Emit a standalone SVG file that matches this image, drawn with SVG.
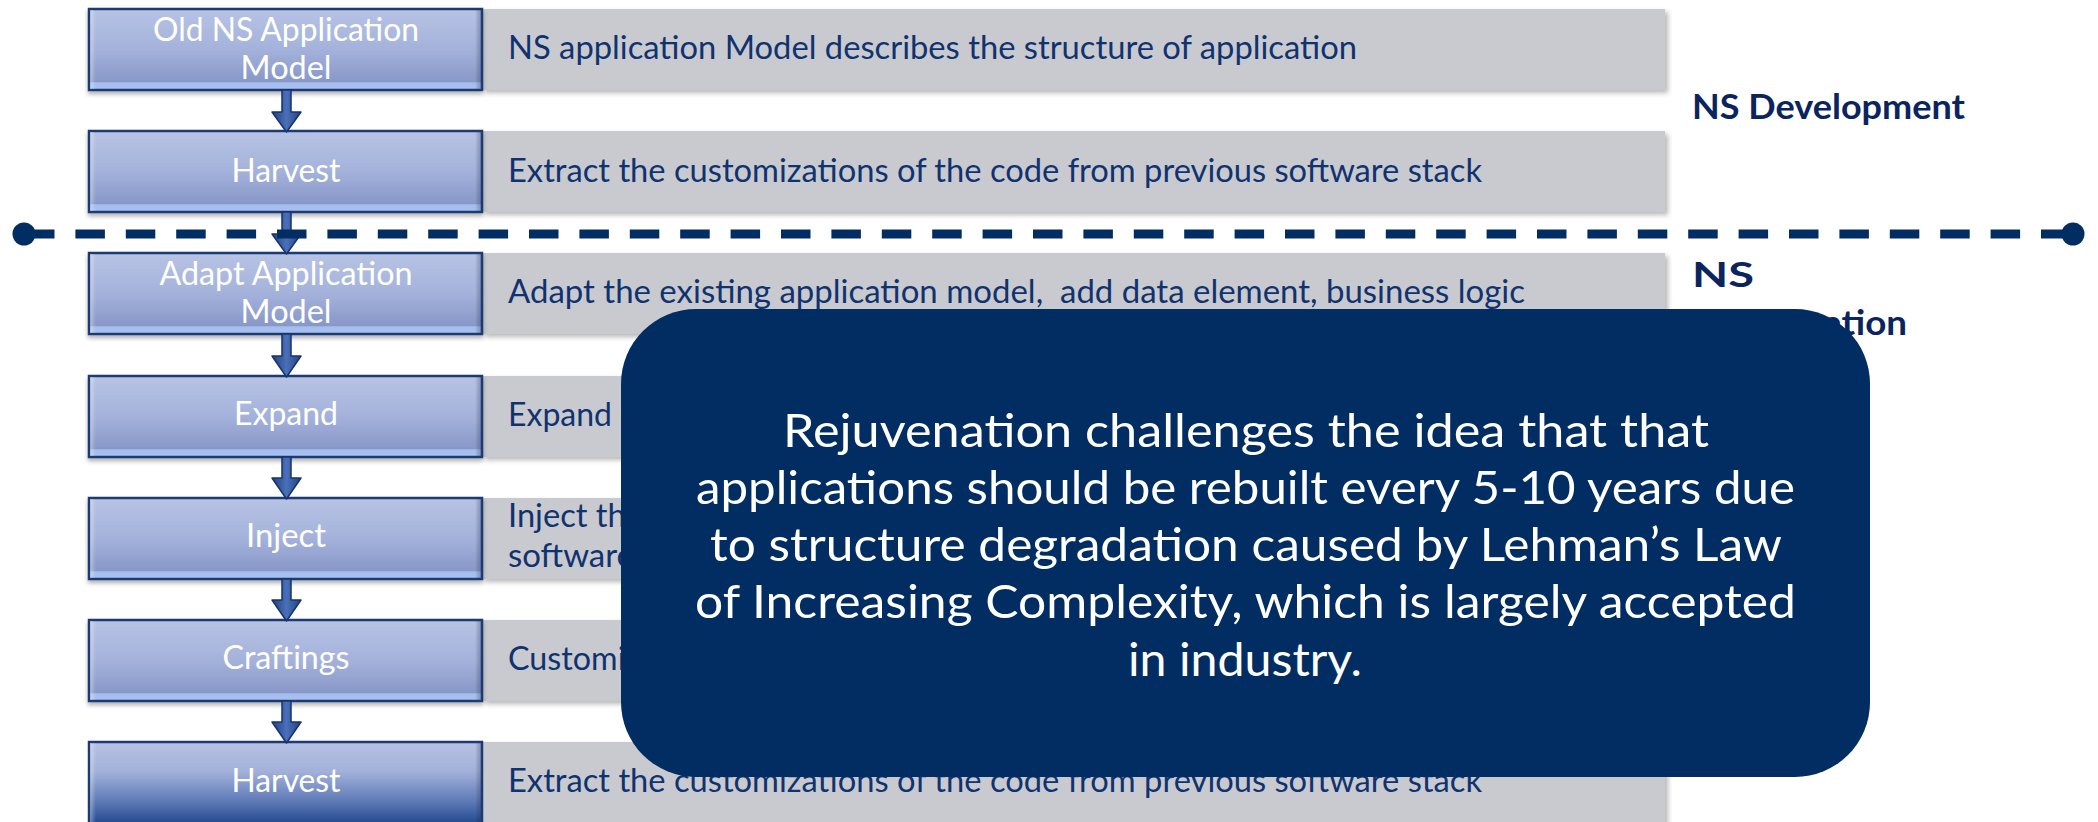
<svg xmlns="http://www.w3.org/2000/svg" width="2098" height="822" viewBox="0 0 2098 822">
  <defs>
    <linearGradient id="stepFill" x1="0" y1="0" x2="0" y2="1">
      <stop offset="0" stop-color="#b8c3e4"/>
      <stop offset="0.5" stop-color="#a4b2db"/>
      <stop offset="0.9" stop-color="#8797c7"/>
      <stop offset="0.91" stop-color="#a4bdee"/>
      <stop offset="1" stop-color="#a9c2f0"/>
    </linearGradient>
    <linearGradient id="stepFillDark" x1="0" y1="0" x2="0" y2="1">
      <stop offset="0" stop-color="#b7c2e3"/>
      <stop offset="0.35" stop-color="#a3b1da"/>
      <stop offset="0.7" stop-color="#5f7bb8"/>
      <stop offset="1" stop-color="#1d4489"/>
    </linearGradient>
    <linearGradient id="edgeShade" x1="0" y1="0" x2="1" y2="0">
      <stop offset="0" stop-color="#ffffff" stop-opacity="0.35"/>
      <stop offset="0.015" stop-color="#ffffff" stop-opacity="0"/>
      <stop offset="0.985" stop-color="#000000" stop-opacity="0"/>
      <stop offset="1" stop-color="#1b2f5e" stop-opacity="0.3"/>
    </linearGradient>
    <linearGradient id="arrowFill" x1="0" y1="0" x2="1" y2="0">
      <stop offset="0" stop-color="#22417f"/>
      <stop offset="0.5" stop-color="#4a70ba"/>
      <stop offset="1" stop-color="#22417f"/>
    </linearGradient>
    <filter id="boxShadow" x="-5%" y="-20%" width="110%" height="150%">
      <feDropShadow dx="3" dy="3" stdDeviation="2.5" flood-color="#000" flood-opacity="0.28"/>
    </filter>
    <filter id="stepShadow" x="-5%" y="-20%" width="110%" height="150%">
      <feDropShadow dx="0" dy="3" stdDeviation="2" flood-color="#000" flood-opacity="0.3"/>
    </filter>
  </defs>
  <style>
    .desc { fill: #c9cacf; }
    .step { fill: url(#stepFill); stroke: #1e3a72; stroke-width: 2.5; }
    .stepLast { fill: url(#stepFillDark); stroke: #1e3a72; stroke-width: 2.5; }
    .edge { fill: url(#edgeShade); }
    .stepText { font-family: Lato, "Liberation Sans", sans-serif; font-size: 32px; fill: #ffffff; text-anchor: middle; }
    .descText { font-family: Lato, "Liberation Sans", sans-serif; font-size: 32px; fill: #10336f; }
    .phase { font-family: Lato, "Liberation Sans", sans-serif; font-size: 35px; font-weight: bold; fill: #0b245e; }
    .arrow { fill: url(#arrowFill); stroke: #17336a; stroke-width: 1.5; stroke-linejoin: round; }
    .divider { stroke: #022d63; stroke-width: 9; stroke-dasharray: 29.5 20.9; fill: none; }
    .dot { fill: #022d63; }
    .note { fill: #022d63; }
    .noteText { font-family: Lato, "Liberation Sans", sans-serif; font-size: 47px; fill: #ffffff; }
  </style>

  <!-- phase labels (second one partly hidden under the note) -->
  <g id="phase-labels">
    <text class="phase" x="1692" y="119" textLength="273" lengthAdjust="spacingAndGlyphs">NS Development</text>
    <text class="phase" x="1692" y="287" textLength="62" lengthAdjust="spacingAndGlyphs">NS</text>
    <text class="phase" x="1692" y="335" textLength="215" lengthAdjust="spacingAndGlyphs">Rejuvenation</text>
  </g>

  <!-- step 1 -->
  <g id="step-old-model">
    <rect class="desc" x="482" y="9" width="1183" height="81" filter="url(#boxShadow)"/>
    <rect class="step" x="89" y="9" width="393" height="81" filter="url(#stepShadow)"/>
    <rect class="edge" x="90" y="10" width="391" height="79"/>
    <text class="stepText" x="286" y="41" textLength="266" lengthAdjust="spacingAndGlyphs">Old NS Application</text>
    <text class="stepText" x="286" y="79" textLength="91" lengthAdjust="spacingAndGlyphs">Model</text>
    <text class="descText" x="508" y="59" textLength="849" lengthAdjust="spacingAndGlyphs">NS application Model describes the structure of application</text>
  </g>

  <!-- step 2 -->
  <g id="step-harvest-1">
    <rect class="desc" x="482" y="131" width="1183" height="81" filter="url(#boxShadow)"/>
    <rect class="step" x="89" y="131" width="393" height="81" filter="url(#stepShadow)"/>
    <rect class="edge" x="90" y="132" width="391" height="79"/>
    <text class="stepText" x="286" y="182" textLength="109" lengthAdjust="spacingAndGlyphs">Harvest</text>
    <text class="descText" x="508" y="182" textLength="974" lengthAdjust="spacingAndGlyphs">Extract the customizations of the code from previous software stack</text>
  </g>

  <!-- step 3 -->
  <g id="step-adapt">
    <rect class="desc" x="482" y="253" width="1183" height="81" filter="url(#boxShadow)"/>
    <rect class="step" x="89" y="253" width="393" height="81" filter="url(#stepShadow)"/>
    <rect class="edge" x="90" y="254" width="391" height="79"/>
    <text class="stepText" x="286" y="285" textLength="253" lengthAdjust="spacingAndGlyphs">Adapt Application</text>
    <text class="stepText" x="286" y="323" textLength="91" lengthAdjust="spacingAndGlyphs">Model</text>
    <text class="descText" x="508" y="303" textLength="1017" lengthAdjust="spacingAndGlyphs" style="white-space:pre">Adapt the existing application model,  add data element, business logic</text>
  </g>

  <!-- step 4 -->
  <g id="step-expand">
    <rect class="desc" x="482" y="376" width="1183" height="81" filter="url(#boxShadow)"/>
    <rect class="step" x="89" y="376" width="393" height="81" filter="url(#stepShadow)"/>
    <rect class="edge" x="90" y="377" width="391" height="79"/>
    <text class="stepText" x="286" y="425" textLength="104" lengthAdjust="spacingAndGlyphs">Expand</text>
    <text class="descText" x="508" y="426" textLength="104" lengthAdjust="spacingAndGlyphs">Expand</text>
  </g>

  <!-- step 5 -->
  <g id="step-inject">
    <rect class="desc" x="482" y="498" width="1183" height="81" filter="url(#boxShadow)"/>
    <rect class="step" x="89" y="498" width="393" height="81" filter="url(#stepShadow)"/>
    <rect class="edge" x="90" y="499" width="391" height="79"/>
    <text class="stepText" x="286" y="547" textLength="80" lengthAdjust="spacingAndGlyphs">Inject</text>
    <text class="descText" x="508" y="527" textLength="135" lengthAdjust="spacingAndGlyphs">Inject the</text>
    <text class="descText" x="508" y="567" textLength="126" lengthAdjust="spacingAndGlyphs">software</text>
  </g>

  <!-- step 6 -->
  <g id="step-craftings">
    <rect class="desc" x="482" y="620" width="1183" height="81" filter="url(#boxShadow)"/>
    <rect class="step" x="89" y="620" width="393" height="81" filter="url(#stepShadow)"/>
    <rect class="edge" x="90" y="621" width="391" height="79"/>
    <text class="stepText" x="286" y="669" textLength="127" lengthAdjust="spacingAndGlyphs">Craftings</text>
    <text class="descText" x="508" y="670" textLength="218" lengthAdjust="spacingAndGlyphs">Customizations</text>
  </g>

  <!-- step 7 -->
  <g id="step-harvest-2">
    <rect class="desc" x="482" y="742" width="1183" height="84" filter="url(#boxShadow)"/>
    <rect class="stepLast" x="89" y="742" width="393" height="84"/>
    <rect class="edge" x="90" y="743" width="391" height="82"/>
    <text class="stepText" x="286" y="792" textLength="109" lengthAdjust="spacingAndGlyphs">Harvest</text>
    <text class="descText" x="508" y="792" textLength="974" lengthAdjust="spacingAndGlyphs">Extract the customizations of the code from previous software stack</text>
  </g>

  <!-- flow arrows between steps -->
  <g id="connectors">
    <path class="arrow" d="M282,90 H291 V112 H301 L286.5,132 L272,112 H282 Z"/>
    <path class="arrow" d="M282,212 H291 V234 H301 L286.5,254 L272,234 H282 Z"/>
    <path class="arrow" d="M282,334 H291 V356 H301 L286.5,377 L272,356 H282 Z"/>
    <path class="arrow" d="M282,457 H291 V478 H301 L286.5,499 L272,478 H282 Z"/>
    <path class="arrow" d="M282,579 H291 V600 H301 L286.5,621 L272,600 H282 Z"/>
    <path class="arrow" d="M282,701 H291 V722 H301 L286.5,743 L272,722 H282 Z"/>
  </g>

  <!-- phase divider -->
  <g id="divider">
    <line class="divider" x1="25" y1="234" x2="2073" y2="234"/>
    <circle class="dot" cx="24" cy="234" r="11.5"/>
    <circle class="dot" cx="2073" cy="234" r="11.5"/>
  </g>

  <!-- note overlay -->
  <g id="note">
    <rect class="note" x="621" y="309" width="1249" height="468" rx="75" ry="75"/>
    <text class="noteText" x="783" y="447" textLength="926" lengthAdjust="spacingAndGlyphs">Rejuvenation challenges the idea that that</text>
    <text class="noteText" x="696" y="504" textLength="1099" lengthAdjust="spacingAndGlyphs">applications should be rebuilt every 5-10 years due</text>
    <text class="noteText" x="710" y="561" textLength="1072" lengthAdjust="spacingAndGlyphs">to structure degradation caused by Lehman’s Law</text>
    <text class="noteText" x="695" y="618" textLength="1101" lengthAdjust="spacingAndGlyphs">of Increasing Complexity, which is largely accepted</text>
    <text class="noteText" x="1128" y="676" textLength="234" lengthAdjust="spacingAndGlyphs">in industry.</text>
  </g>
</svg>
